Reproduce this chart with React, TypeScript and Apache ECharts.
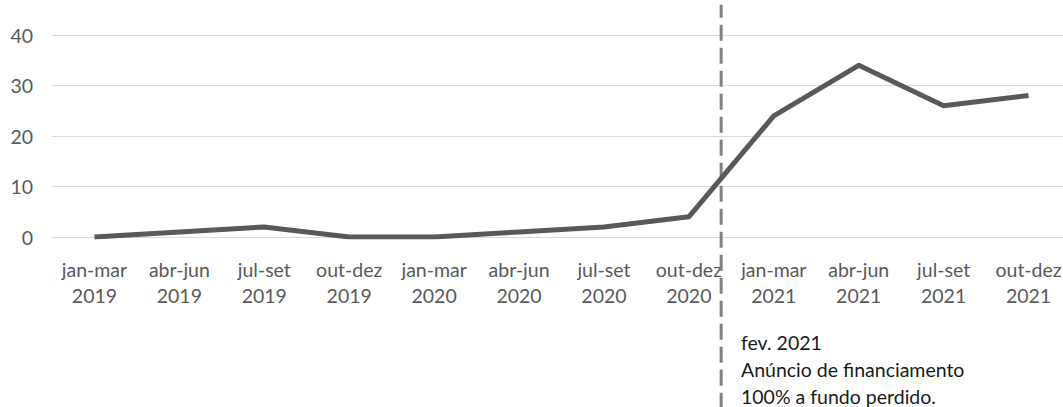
import React, { useEffect, useRef } from "react";
import * as echarts from "echarts";

const categories = [
  "jan-mar\n2019", "abr-jun\n2019", "jul-set\n2019", "out-dez\n2019",
  "jan-mar\n2020", "abr-jun\n2020", "jul-set\n2020", "out-dez\n2020",
  "jan-mar\n2021", "abr-jun\n2021", "jul-set\n2021", "out-dez\n2021",
];
const values = [0, 1, 2, 0, 0, 1, 2, 4, 24, 34, 26, 28];
const yTicks = { min: 0, max: 40, interval: 10 };
// position of the announcement (fev. 2021) on a continuous quarter scale 0..12
const announcementX = 7.88;
const announcementLine = [[announcementX, -34], [announcementX, 46]];
const annotationLines = ["fev. 2021", "Anúncio de financiamento", "100% a fundo perdido."];

export default function App() {
  const ref = useRef<HTMLDivElement>(null);
  useEffect(() => {
    const chart = echarts.init(ref.current!, null, { renderer: "svg" });
    const font = "Lato, 'Open Sans', sans-serif";
    chart.setOption({
      animation: false,
      backgroundColor: "#ffffff",
      textStyle: { fontFamily: font },
      grid: { left: 52, top: 35, right: 1, height: 202, containLabel: false },
      xAxis: [
        {
          type: "category",
          data: categories,
          boundaryGap: true,
          axisLine: { show: false },
          axisTick: { show: false },
          axisLabel: {
            color: "#595959",
            fontSize: 19.5,
            fontFamily: font,
            lineHeight: 26,
            margin: 19,
            interval: 0,
          },
        },
        {
          type: "value",
          min: 0,
          max: 12,
          show: false,
        },
      ],
      yAxis: {
        type: "value",
        min: yTicks.min,
        max: yTicks.max,
        interval: yTicks.interval,
        axisLine: { show: false },
        axisTick: { show: false },
        axisLabel: { color: "#595959", fontSize: 19.5, fontFamily: font, margin: 19 },
        splitLine: { lineStyle: { color: "#d9d9d9", width: 1 } },
      },
      series: [
        {
          type: "line",
          data: values,
          xAxisIndex: 0,
          symbol: "none",
          lineStyle: { color: "#595959", width: 5, join: "round" },
          z: 3,
        },
        {
          type: "line",
          data: announcementLine,
          xAxisIndex: 1,
          symbol: "none",
          clip: false,
          lineStyle: { color: "#808080", width: 3, type: [16, 7] },
          z: 2,
        },
      ],
      graphic: annotationLines.map((t, i) => ({
        type: "text",
        left: 741,
        top: 332 + i * 27,
        style: { text: t, fill: "#1a1a1a", fontSize: 19.5, fontFamily: font },
      })),
    });
    return () => chart.dispose();
  }, []);
  return (
    <div style={{ position: "absolute", left: 0, top: 0, width: 1063, height: 407, overflow: "hidden" }}>
      <div ref={ref} style={{ width: 1072, height: 407 }} />
    </div>
  );
}
